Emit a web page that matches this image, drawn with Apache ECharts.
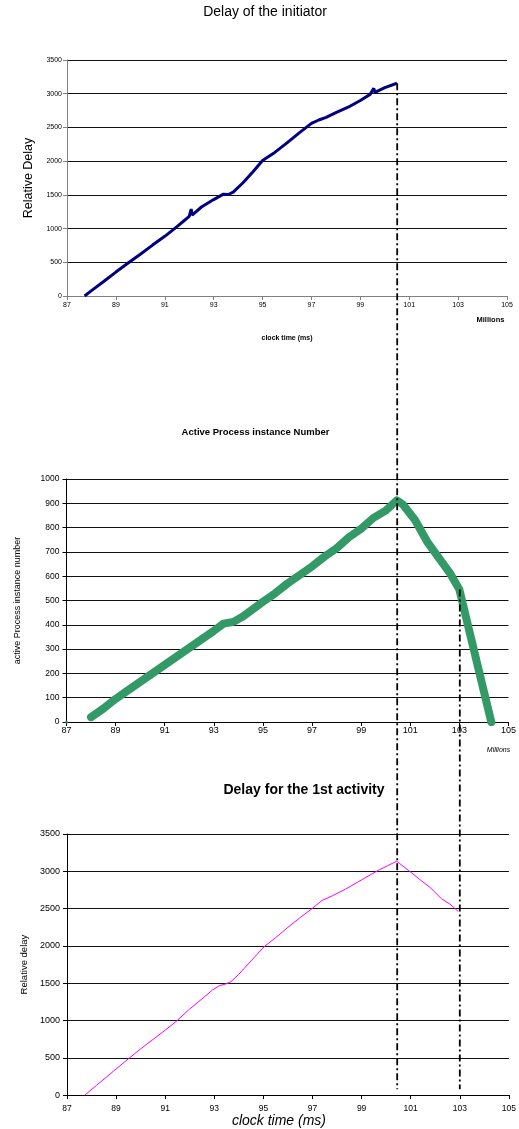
<!DOCTYPE html>
<html><head><meta charset="utf-8">
<script src="https://cdn.jsdelivr.net/npm/echarts@6/dist/echarts.min.js"></script>
<style>html,body{margin:0;padding:0;background:#fff}#main{width:519px;height:1129px}</style>
</head><body><div id="main"></div>
<script>
// ---- data (clock time in millions of ms, value) ----
const initiatorTime  = [87.72,88.0,88.5,89.0,89.5,90.0,90.5,91.0,91.5,91.8,92.0,92.08,92.12,92.5,93.0,93.4,93.6,93.8,94.2,94.6,95.0,95.5,96.0,96.5,97.0,97.3,97.6,98.0,98.5,99.0,99.4,99.55,99.6,100.0,100.5];
const initiatorDelay = [0,80,215,355,490,620,755,885,1030,1120,1180,1290,1200,1320,1430,1510,1505,1540,1680,1840,2010,2130,2270,2420,2560,2610,2650,2720,2800,2900,2990,3080,3020,3090,3155];

const activeTime  = [88.0,88.5,89.0,89.5,90.0,90.5,91.0,91.5,92.0,92.5,93.0,93.4,93.8,94.2,94.6,95.0,95.5,96.0,96.5,97.0,97.5,98.0,98.5,99.0,99.5,100.0,100.45,100.7,101.2,101.7,102.2,102.6,103.0,103.5,104.0,104.3];
const activeCount = [20,55,95,130,165,200,235,270,305,340,375,405,412,435,465,495,530,570,605,640,680,715,760,795,840,870,912,895,830,740,670,615,545,335,125,0];
const activeOrigin = [[87,0]];

const firstTime  = [87.73,88.2,88.6,89.0,89.55,90.0,90.5,91.0,91.44,92.0,92.5,92.93,93.2,93.47,93.68,94.0,94.5,95.03,95.5,96.0,96.5,96.98,97.39,97.8,98.34,99.0,99.69,100.43,100.9,101.45,101.8,102.26,102.6,102.94];
const firstDelay = [0,130,240,350,500,620,745,870,985,1155,1290,1410,1465,1490,1520,1620,1800,1990,2110,2250,2380,2500,2610,2670,2760,2885,3015,3135,3015,2870,2780,2630,2560,2460];

const xTickRange = [87, 105, 2];
const connectorTimes = [100.45, 103.0];
const connectorStartValues = [3155, 545]; // top chart end, middle chart value at 103
const connectorEndValue = 80;             // in bottom chart

const zip = (a, b) => a.map((v, i) => [v, b[i]]);
const FONT = '"Liberation Sans", Arial, sans-serif';
const plain = v => String(v);

function xAxis(gi, color, fs, margin, extra) {
  return Object.assign({
    type: 'value', gridIndex: gi, min: xTickRange[0], max: xTickRange[1], interval: xTickRange[2],
    axisLine: {show: true, onZero: false, lineStyle: {color: color, width: 1}},
    axisTick: {show: true, length: 4, lineStyle: {color: color}},
    axisLabel: {fontSize: fs, color: '#000', margin: margin, fontFamily: FONT, formatter: plain},
    splitLine: {show: false}
  }, extra || {});
}
function yAxis(gi, max, interval, color, fs, margin, extra) {
  return Object.assign({
    type: 'value', gridIndex: gi, min: 0, max: max, interval: interval,
    axisLine: {show: true, lineStyle: {color: color, width: 1}},
    axisTick: {show: true, length: 4, lineStyle: {color: color}},
    axisLabel: {fontSize: fs, color: '#000', margin: margin, fontFamily: FONT, formatter: plain},
    splitLine: {show: true, lineStyle: {color: '#111', width: 1}}
  }, extra || {});
}

const option = {
  animation: false,
  backgroundColor: '#fff',
  grid: [
    {left: 67, right: 12, top: 60, height: 236},
    {left: 66.5, right: 7, top: 479, height: 243},
    {left: 67, right: 8, top: 834, height: 273}
  ],
  xAxis: [
    xAxis(0, '#808080', 7, 6, {name: 'clock time (ms)', nameLocation: 'middle', nameGap: 39,
      nameTextStyle: {fontSize: 7, fontWeight: 'bold', color: '#000', fontFamily: FONT}}),
    xAxis(1, '#000', 9, 4),
    xAxis(2, '#000', 8.5, 9, {name: 'clock time (ms)', nameLocation: 'middle', nameGap: 7,
      nameTextStyle: {fontSize: 14, fontStyle: 'italic', color: '#000', fontFamily: FONT, padding: [0, 18, 0, 0]}})
  ],
  yAxis: [
    yAxis(0, 3500, 500, '#808080', 7, 5, {name: 'Relative Delay', nameLocation: 'middle', nameGap: 30,
      nameTextStyle: {fontSize: 12.5, color: '#000', fontFamily: FONT}}),
    yAxis(1, 1000, 100, '#000', 8.5, 7, {name: 'active Process instance number', nameLocation: 'middle', nameGap: 44,
      nameTextStyle: {fontSize: 9, color: '#000', fontFamily: FONT}}),
    yAxis(2, 3500, 500, '#000', 9, 7, {name: 'Relative delay', nameLocation: 'middle', nameGap: 34,
      nameTextStyle: {fontSize: 9.5, color: '#000', fontFamily: FONT}})
  ],
  series: [
    {type: 'line', xAxisIndex: 0, yAxisIndex: 0, data: zip(initiatorTime, initiatorDelay),
      showSymbol: false, symbol: 'none', lineStyle: {color: '#000080', width: 3}, z: 3},
    {type: 'line', xAxisIndex: 1, yAxisIndex: 1, data: zip(activeTime, activeCount),
      showSymbol: false, symbol: 'none', lineStyle: {color: '#339966', width: 8, cap: 'round', join: 'round'}, z: 3},
    {type: 'scatter', xAxisIndex: 1, yAxisIndex: 1, data: activeOrigin, symbolSize: 3,
      itemStyle: {color: '#339966'}, z: 3},
    {type: 'line', xAxisIndex: 2, yAxisIndex: 2, data: zip(firstTime, firstDelay),
      showSymbol: false, symbol: 'none', lineStyle: {color: '#ff00ff', width: 1}, z: 3}
  ]
};

const chart = echarts.init(document.getElementById('main'), null, {renderer: 'canvas'});
chart.setOption(option);

function txt(text, x, y, font, extra) {
  return Object.assign({type: 'text', x: x, y: y, z: 50,
    style: {text: text, font: font, fill: '#000', textAlign: 'center', textVerticalAlign: 'middle'}}, extra || {});
}
const graphics = [
  txt('Delay of the initiator', 265, 12, '14px ' + FONT),
  txt('Millions', 490.5, 320, 'bold 7.5px ' + FONT),
  txt('Active Process instance Number', 255.5, 432, 'bold 9.5px ' + FONT),
  txt('Millions', 498.5, 750.5, 'italic 7px ' + FONT),
  txt('Delay for the 1st activity', 304, 790, 'bold 14px ' + FONT)
];
const startAxes = [0, 1];
connectorTimes.forEach((t, i) => {
  const px = chart.convertToPixel({xAxisIndex: 2, yAxisIndex: 2}, [t, connectorEndValue]);
  const ps = chart.convertToPixel({xAxisIndex: startAxes[i], yAxisIndex: startAxes[i]}, [t, connectorStartValues[i]]);
  graphics.push({type: 'line', z: 60, shape: {x1: px[0], y1: ps[1], x2: px[0], y2: px[1]},
    style: {stroke: '#000', lineWidth: 1.8, lineDash: [7, 3, 2, 3]}});
});
chart.setOption({graphic: graphics});
</script>
</body></html>
